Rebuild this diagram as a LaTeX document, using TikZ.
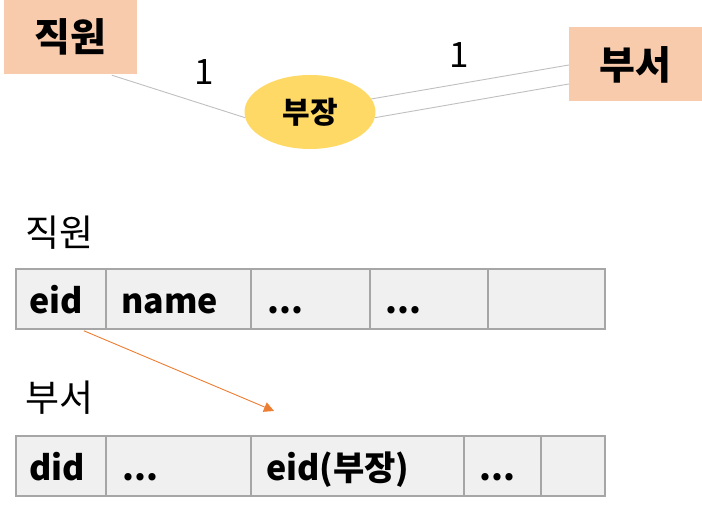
\documentclass[tikz,border=0pt]{standalone}
\usepackage{fontspec}
\setmainfont{Noto Sans CJK KR}
\usetikzlibrary{calc,arrows.meta,shapes.geometric}
\definecolor{entfill}{HTML}{F8CBAD}
\definecolor{relfill}{HTML}{FFD966}
\definecolor{cellfill}{HTML}{F0F0F0}
\definecolor{cellline}{HTML}{A6A6A6}
\definecolor{linkline}{HTML}{BFBFBF}
\definecolor{fkarrow}{HTML}{ED7D31}
\tikzset{
  ent/.style={rectangle, fill=entfill, minimum width=133pt, minimum height=74pt, inner sep=0pt, font=\fontsize{39}{44}\selectfont\bfseries},
  rel/.style={ellipse, fill=relfill, minimum width=131pt, minimum height=74pt, inner sep=0pt, font=\fontsize{30}{34}\selectfont\bfseries},
  link/.style={draw=linkline, line width=0.9pt},
  card/.style={font=\fontsize{35}{40}\selectfont, inner sep=0pt},
  caption/.style={font=\fontsize{37}{42}\selectfont, anchor=west, inner sep=0pt},
  cellbox/.style={draw=cellline, fill=cellfill, line width=1.8pt, minimum height=60pt, inner sep=0pt, anchor=north west},
  celltext/.style={font=\fontsize{34}{40}\selectfont\bfseries, anchor=base west, inner sep=0pt},
  fk/.style={draw=fkarrow, line width=0.9pt, -{Triangle[length=10pt,width=10pt]}}
}
\begin{document}
\begin{tikzpicture}[x=1pt,y=-1pt]
\useasboundingbox (0,0) rectangle (702,510);
% ER part
\node[ent] (emp) at (70.5,37) {직원};
\node[ent] (dept) at (635.5,64.5) {부서};
\node[rel] (rel) at (310,112) {부장};
\draw[link] ($(emp.south west)+(108,1)$) -- (rel.185);
\draw[link] (rel.12) -- ($(dept.west)+(0,0.5)$);
\draw[link] (rel.-5) -- ($(dept.west)+(0,19.5)$);
\node[card] (c1) at (204,72) {1};
\node[card] (c2) at (459,55) {1};
% table captions
\node[caption] (cap1) at (25,232.5) {직원};
\node[caption] (cap2) at (25,398) {부서};
% table 1
\node[cellbox, minimum width=90pt] (a1) at (15,268) {};
\node[cellbox, minimum width=145pt] (a2) at (105,268) {};
\node[cellbox, minimum width=119pt] (a3) at (250,268) {};
\node[cellbox, minimum width=118pt] (a4) at (369,268) {};
\node[cellbox, minimum width=117pt] (a5) at (487,268) {};
\node[celltext] (ta1) at ($(a1.west)+(14,15)$) {eid};
\node[celltext] (ta2) at ($(a2.west)+(16,15)$) {name};
\node[celltext] (ta3) at ($(a3.west)+(17,15)$) {...};
\node[celltext] (ta4) at ($(a4.west)+(16,15)$) {...};
% table 2
\node[cellbox, minimum width=90pt] (b1) at (15,435) {};
\node[cellbox, minimum width=145pt] (b2) at (105,435) {};
\node[cellbox, minimum width=213pt] (b3) at (250,435) {};
\node[cellbox, minimum width=77pt] (b4) at (463,435) {};
\node[cellbox, minimum width=64pt] (b5) at (540,435) {};
\node[celltext] (tb1) at ($(b1.west)+(14,15)$) {did};
\node[celltext] (tb2) at ($(b2.west)+(17,15)$) {...};
\node[celltext] (tb3) at ($(b3.west)+(16,15)$) {eid(부장)};
\node[celltext] (tb4) at ($(b4.west)+(16,15)$) {...};
% foreign key arrow
\coordinate (fkend) at (274,411);
\draw[fk] ($(a1.south)+(23,1)$) -- (fkend);
\end{tikzpicture}
\end{document}
